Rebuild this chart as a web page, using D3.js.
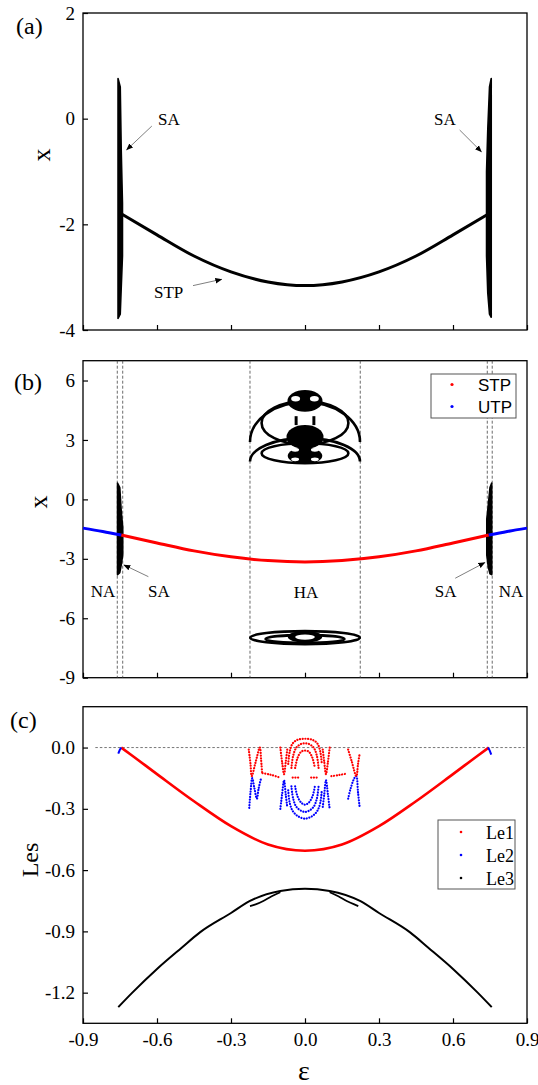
<!DOCTYPE html>
<html>
<head>
<meta charset="utf-8">
<script src="https://cdn.jsdelivr.net/npm/d3@7.9.0/dist/d3.min.js"></script>
<style>
  body { margin: 0; background: #fff; }
  text { font-family: "Liberation Serif", "Times New Roman", serif; fill: #000; }
</style>
</head>
<body>
<svg id="chart" width="538" height="1085"></svg>
<script>
// ---- ticks ----
const epsTicks = [-0.9, -0.6, -0.3, 0, 0.3, 0.6, 0.9];
const aTicks = [-4, -2, 0, 2];
const bTicks = [-9, -6, -3, 0, 3, 6];
const cTicks = [-1.2, -0.9, -0.6, -0.3, 0];

// ---- stable / unstable equilibrium branch (x vs eps) ----
const stpEps = [-0.745, -0.6, -0.45, -0.3, -0.15, 0, 0.15, 0.3, 0.45, 0.6, 0.745];
const stpX = [-1.8, -2.2, -2.6, -2.9, -3.09, -3.16, -3.09, -2.9, -2.6, -2.2, -1.8];
const utpLeftEps = [-0.9, -0.82, -0.745];
const utpLeftX = [-1.45, -1.62, -1.8];
const utpRightEps = [0.745, 0.82, 0.9];
const utpRightX = [-1.8, -1.62, -1.45];

// ---- self-excited attractor bands (eps, lower x, upper x) ----
const saALeft = [
  { e: -0.758, lo: -3.78, hi: 0.76 }, { e: -0.749, lo: -3.7, hi: 0.6 },
  { e: -0.745, lo: -3.2, hi: -0.6 }, { e: -0.740, lo: -2.6, hi: -1.6 }];
const saARight = [
  { e: 0.736, lo: -2.6, hi: -1.0 }, { e: 0.741, lo: -3.3, hi: -0.2 },
  { e: 0.748, lo: -3.7, hi: 0.6 }, { e: 0.755, lo: -3.76, hi: 0.76 }];
const saBLeft = [
  { e: -0.760, lo: -3.8, hi: 0.82 }, { e: -0.751, lo: -3.7, hi: 0.6 },
  { e: -0.745, lo: -3.3, hi: -0.6 }, { e: -0.739, lo: -2.8, hi: -1.4 }];
const saBRight = [
  { e: 0.737, lo: -2.8, hi: -1.0 }, { e: 0.743, lo: -3.4, hi: -0.3 },
  { e: 0.750, lo: -3.75, hi: 0.6 }, { e: 0.757, lo: -3.8, hi: 0.82 }];

// ---- hidden attractor pieces in (b): closed loops, upper arcs, solid blobs, holes ----
const haLoops = [
  { e: 0, x: 3.86, re: 0.176, rx: 1.09 },
  { e: 0, x: 2.33, re: 0.176, rx: 0.5 },
  { e: 0, x: -6.98, re: 0.222, rx: 0.33 },
  { e: 0, x: -7.05, re: 0.16, rx: 0.2 }];
const haArcs = [
  { e: 0, x: 2.9, re: 0.223, rx: 2.0 },
  { e: 0, x: 1.91, re: 0.223, rx: 1.18 }];
const haBlobs = [
  { e: 0, x: 4.97, re: 0.071, rx: 0.55 },
  { e: 0, x: 3.15, re: 0.075, rx: 0.6 },
  { e: 0, x: 2.2, re: 0.07, rx: 0.42 },
  { e: 0, x: -6.93, re: 0.07, rx: 0.3 }];
const haHoles = [
  { e: -0.038, x: 5.08, re: 0.018, rx: 0.14 }, { e: 0.038, x: 5.08, re: 0.018, rx: 0.14 },
  { e: -0.04, x: 2.5, re: 0.016, rx: 0.1 }, { e: 0.04, x: 2.5, re: 0.016, rx: 0.1 },
  { e: -0.04, x: 2.02, re: 0.016, rx: 0.1 }, { e: 0.04, x: 2.02, re: 0.016, rx: 0.1 },
  { e: 0, x: -6.95, re: 0.04, rx: 0.13 }];
const haMarks = [
  { e0: -0.042, e1: -0.03, x0: 3.75, x1: 4.2 },
  { e0: 0.03, e1: 0.042, x0: 3.75, x1: 4.2 }];

// ---- Lyapunov exponents (c) ----
const le1Eps = [-0.745, -0.7, -0.6, -0.45, -0.3, -0.15, 0, 0.15, 0.3, 0.45, 0.6, 0.7, 0.745];
const le1 = [0.0, -0.04, -0.13, -0.263, -0.385, -0.475, -0.505, -0.475, -0.385, -0.263, -0.13, -0.04, 0.0];
const le3Eps = [-0.757, -0.7, -0.6, -0.5, -0.426, -0.3, -0.223, -0.1, 0, 0.1, 0.223, 0.3, 0.426, 0.5, 0.6, 0.7, 0.757];
const le3 = [-1.271, -1.2, -1.084, -0.98, -0.905, -0.81, -0.751, -0.702, -0.691, -0.702, -0.751, -0.81, -0.905, -0.98, -1.084, -1.2, -1.271];
const le3Branches = [
  [[-0.223, -0.776], [-0.2, -0.768], [-0.169, -0.751], [-0.135, -0.728], [-0.1, -0.708]],
  [[0.1, -0.708], [0.135, -0.728], [0.169, -0.751], [0.2, -0.768], [0.216, -0.776]]];
const le2Edges = [
  [[-0.757, -0.03], [-0.751, -0.012], [-0.745, 0.0]],
  [[0.742, 0.0], [0.749, -0.015], [0.755, -0.035]]];

// Le1 / Le2 point runs inside the HA window
const le1HA = [
  [[-0.228, -0.01], [-0.221, -0.08], [-0.216, -0.14], [-0.2, -0.07], [-0.183, 0.0], [-0.178, -0.06], [-0.174, -0.12]],
  [[-0.172, -0.125], [-0.14, -0.133], [-0.104, -0.146]],
  [[-0.1, 0.0], [-0.093, -0.07], [-0.085, -0.13], [-0.078, -0.07], [-0.072, -0.01]],
  [[-0.068, -0.08], [-0.062, -0.02], [-0.05, 0.02], [-0.03, 0.038], [0, 0.043], [0.03, 0.038], [0.05, 0.02], [0.062, -0.02], [0.068, -0.08]],
  [[-0.055, -0.1], [-0.048, -0.04], [-0.035, 0.0], [-0.015, 0.018], [0, 0.02], [0.015, 0.018], [0.035, 0.0], [0.048, -0.04], [0.055, -0.1]],
  [[-0.04, -0.1], [-0.03, -0.05], [-0.015, -0.02], [0, -0.015], [0.015, -0.02], [0.03, -0.05], [0.04, -0.1]],
  [[-0.05, -0.147], [-0.025, -0.147]],
  [[0.025, -0.147], [0.05, -0.147]],
  [[0.072, -0.01], [0.078, -0.07], [0.085, -0.13], [0.093, -0.07], [0.1, 0.0]],
  [[0.107, -0.14], [0.14, -0.134], [0.167, -0.128]],
  [[0.175, -0.01], [0.19, -0.07], [0.208, -0.14], [0.215, -0.08], [0.222, -0.027]]];
const le2HA = [
  [[-0.226, -0.295], [-0.221, -0.22], [-0.214, -0.15], [-0.205, -0.2], [-0.195, -0.25], [-0.188, -0.2], [-0.178, -0.15]],
  [[-0.1, -0.3], [-0.093, -0.23], [-0.085, -0.16], [-0.078, -0.23], [-0.072, -0.29]],
  [[-0.068, -0.21], [-0.062, -0.27], [-0.05, -0.31], [-0.03, -0.335], [0, -0.348], [0.03, -0.335], [0.05, -0.31], [0.062, -0.27], [0.068, -0.21]],
  [[-0.055, -0.19], [-0.048, -0.25], [-0.035, -0.29], [-0.015, -0.31], [0, -0.315], [0.015, -0.31], [0.035, -0.29], [0.048, -0.25], [0.055, -0.19]],
  [[-0.04, -0.19], [-0.03, -0.24], [-0.015, -0.27], [0, -0.28], [0.015, -0.27], [0.03, -0.24], [0.04, -0.19]],
  [[0.072, -0.29], [0.078, -0.23], [0.085, -0.16], [0.093, -0.23], [0.1, -0.3]],
  [[0.175, -0.25], [0.185, -0.2], [0.2, -0.15], [0.208, -0.14], [0.215, -0.22], [0.222, -0.296]]];

// ---- boundaries and notes ----
const bDashes = [-0.761, -0.739, -0.223, 0.224, 0.739, 0.759];
const notesA = [
  { t: 'SA', e: -0.596, v: -0.12, from: [-0.621, -0.14], to: [-0.723, -0.59] },
  { t: 'STP', e: -0.612, v: -3.39, from: [-0.454, -3.16], to: [-0.338, -3.04] },
  { t: 'SA', e: 0.523, v: -0.12, from: [0.627, -0.215], to: [0.715, -0.625] }];
const notesB = [
  { t: 'NA', e: -0.869, v: -4.93 },
  { t: 'SA', e: -0.636, v: -4.93, from: [-0.635, -3.9], to: [-0.734, -3.31] },
  { t: 'HA', e: -0.046, v: -4.98 },
  { t: 'SA', e: 0.526, v: -4.93, from: [0.609, -3.98], to: [0.729, -3.19] },
  { t: 'NA', e: 0.785, v: -4.93 }];
const legendB = [{ label: 'STP', color: '#ff0000' }, { label: 'UTP', color: '#0000ff' }];
const legendC = [{ label: 'Le1', color: '#ff0000' }, { label: 'Le2', color: '#0000ff' }, { label: 'Le3', color: '#000' }];

const svg = d3.select('#chart');
const x = d3.scaleLinear().domain([-0.9, 0.9]).range([83, 527]);
const yA = d3.scaleLinear().domain([-4, 2]).range([330, 13]);
const yB = d3.scaleLinear().domain([-9, 7]).range([677.7, 360.7]);
const yC = d3.scaleLinear().domain([-1.35, 0.2]).range([1023.3, 706.7]);

const defs = svg.append('defs');
defs.append('marker').attr('id', 'arrow').attr('viewBox', '0 0 10 10')
  .attr('refX', 9).attr('refY', 5).attr('markerWidth', 7).attr('markerHeight', 7)
  .attr('markerUnits', 'userSpaceOnUse').attr('orient', 'auto')
  .append('path').attr('d', 'M0,1 L10,5 L0,9 Z').attr('fill', '#000');

function axes(y, ticks, fmt, showX) {
  const [bot, top] = y.range();
  const g = svg.append('g');
  const gx = g.append('g').attr('transform', `translate(0,${bot})`)
    .call(d3.axisBottom(x).tickValues(epsTicks).tickSize(-5).tickPadding(9)
      .tickFormat(showX ? (d) => d.toFixed(1) : ''));
  const gy = g.append('g').attr('transform', `translate(${x.range()[0]},0)`)
    .call(d3.axisLeft(y).tickValues(ticks).tickSize(-5).tickPadding(8).tickFormat(fmt));
  [gx, gy].forEach((a) => {
    a.select('.domain').remove();
    a.selectAll('line').attr('stroke', '#000').attr('stroke-width', 1.2);
    a.selectAll('text').style('font-family', '"Liberation Serif", serif').style('font-size', '19px');
  });
  g.append('rect').attr('x', x.range()[0]).attr('y', top)
    .attr('width', x.range()[1] - x.range()[0]).attr('height', bot - top)
    .attr('fill', 'none').attr('stroke', '#000').attr('stroke-width', 1.3);
}

function band(y, data) {
  svg.append('path').datum(data)
    .attr('d', d3.area().x((d) => x(d.e)).y0((d) => y(d.lo)).y1((d) => y(d.hi)))
    .attr('fill', '#000').attr('stroke', '#000').attr('stroke-width', 1.6)
    .attr('stroke-linejoin', 'round');
}

function notes(y, list) {
  list.forEach((n) => {
    svg.append('text').attr('x', x(n.e)).attr('y', y(n.v))
      .style('font-size', '17px').text(n.t);
    if (n.from) {
      svg.append('line').attr('x1', x(n.from[0])).attr('y1', y(n.from[1]))
        .attr('x2', x(n.to[0])).attr('y2', y(n.to[1]))
        .attr('stroke', '#808080').attr('stroke-width', 1).attr('marker-end', 'url(#arrow)');
    }
  });
}

const lineXY = (y) => d3.line().x((d) => x(d[0])).y((d) => y(d[1]));
const zip = (a, b) => a.map((v, i) => [v, b[i]]);

// ================= (a) =================
axes(yA, aTicks, (d) => String(d), false);
band(yA, saALeft);
band(yA, saARight);
svg.append('path').datum(zip(stpEps, stpX))
  .attr('d', lineXY(yA).curve(d3.curveMonotoneX))
  .attr('fill', 'none').attr('stroke', '#000').attr('stroke-width', 3);
notes(yA, notesA);

// ================= (b) =================
axes(yB, bTicks, (d) => String(d), false);
bDashes.forEach((e) => {
  svg.append('line').attr('x1', x(e)).attr('x2', x(e))
    .attr('y1', yB.range()[1]).attr('y2', yB.range()[0])
    .attr('stroke', '#444').attr('stroke-width', 0.8).attr('stroke-dasharray', '3,2');
});
band(yB, saBLeft);
band(yB, saBRight);
svg.append('path').datum(zip(stpEps, stpX))
  .attr('d', lineXY(yB).curve(d3.curveMonotoneX))
  .attr('fill', 'none').attr('stroke', '#ff0000').attr('stroke-width', 3);
[zip(utpLeftEps, utpLeftX), zip(utpRightEps, utpRightX)].forEach((seg) => {
  svg.append('path').datum(seg).attr('d', lineXY(yB).curve(d3.curveMonotoneX))
    .attr('fill', 'none').attr('stroke', '#0000ff').attr('stroke-width', 3);
});
const ell = (d) => ({ cx: x(d.e), cy: yB(d.x), rx: x(d.e + d.re) - x(d.e), ry: yB(d.x) - yB(d.x + d.rx) });
haArcs.forEach((d) => {
  const p = ell(d);
  svg.append('path')
    .attr('d', `M${p.cx - p.rx},${p.cy} A${p.rx},${p.ry} 0 0 1 ${p.cx + p.rx},${p.cy}`)
    .attr('fill', 'none').attr('stroke', '#000').attr('stroke-width', 2.6);
});
haLoops.forEach((d) => {
  const p = ell(d);
  svg.append('ellipse').attr('cx', p.cx).attr('cy', p.cy).attr('rx', p.rx).attr('ry', p.ry)
    .attr('fill', 'none').attr('stroke', '#000').attr('stroke-width', 2.6);
});
haBlobs.forEach((d) => {
  const p = ell(d);
  svg.append('ellipse').attr('cx', p.cx).attr('cy', p.cy).attr('rx', p.rx).attr('ry', p.ry)
    .attr('fill', '#000');
});
haHoles.forEach((d) => {
  const p = ell(d);
  svg.append('ellipse').attr('cx', p.cx).attr('cy', p.cy).attr('rx', p.rx).attr('ry', p.ry)
    .attr('fill', '#fff');
});
haMarks.forEach((d) => {
  svg.append('rect').attr('x', x(d.e0)).attr('y', yB(d.x1))
    .attr('width', x(d.e1) - x(d.e0)).attr('height', yB(d.x0) - yB(d.x1)).attr('fill', '#000');
});
notes(yB, notesB);

// legend (b)
svg.append('rect').attr('x', 431).attr('y', 374).attr('width', 85).attr('height', 44)
  .attr('fill', '#fff').attr('stroke', '#555').attr('stroke-width', 1);
legendB.forEach((d, i) => {
  svg.append('circle').attr('cx', 452).attr('cy', 384.5 + i * 22).attr('r', 1.6).attr('fill', d.color);
  svg.append('text').attr('x', 478).attr('y', 390.5 + i * 22)
    .style('font-family', '"Liberation Sans", Arial, sans-serif').style('font-size', '17px').text(d.label);
});

// ================= (c) =================
axes(yC, cTicks, (d) => d.toFixed(1), true);
svg.append('line').attr('x1', x(-0.85)).attr('x2', x(0.89)).attr('y1', yC(0)).attr('y2', yC(0))
  .attr('stroke', '#555').attr('stroke-width', 0.8).attr('stroke-dasharray', '2.5,2');
svg.append('path').datum(zip(le1Eps, le1)).attr('d', lineXY(yC).curve(d3.curveMonotoneX))
  .attr('fill', 'none').attr('stroke', '#ff0000').attr('stroke-width', 2.6);
le2Edges.forEach((seg) => {
  svg.append('path').datum(seg).attr('d', lineXY(yC))
    .attr('fill', 'none').attr('stroke', '#0000ff').attr('stroke-width', 2);
});
le2HA.forEach((seg) => {
  svg.append('path').datum(seg).attr('d', lineXY(yC).curve(d3.curveCatmullRom))
    .attr('fill', 'none').attr('stroke', '#0000ff').attr('stroke-width', 2.2)
    .attr('stroke-linecap', 'round').attr('stroke-dasharray', '0.1,2.6');
});
le1HA.forEach((seg) => {
  svg.append('path').datum(seg).attr('d', lineXY(yC).curve(d3.curveCatmullRom))
    .attr('fill', 'none').attr('stroke', '#ff0000').attr('stroke-width', 2.2)
    .attr('stroke-linecap', 'round').attr('stroke-dasharray', '0.1,2.6');
});
svg.append('path').datum(zip(le3Eps, le3)).attr('d', lineXY(yC).curve(d3.curveMonotoneX))
  .attr('fill', 'none').attr('stroke', '#000').attr('stroke-width', 2);
le3Branches.forEach((seg) => {
  svg.append('path').datum(seg).attr('d', lineXY(yC).curve(d3.curveMonotoneX))
    .attr('fill', 'none').attr('stroke', '#000').attr('stroke-width', 1.8);
});

// legend (c)
svg.append('rect').attr('x', 438).attr('y', 820).attr('width', 77).attr('height', 69)
  .attr('fill', '#fff').attr('stroke', '#555').attr('stroke-width', 1);
legendC.forEach((d, i) => {
  svg.append('circle').attr('cx', 461).attr('cy', 832 + i * 23).attr('r', 1.3).attr('fill', d.color);
  svg.append('text').attr('x', 486).attr('y', 838.5 + i * 23).style('font-size', '18px').text(d.label);
});

// ================= labels =================
svg.append('text').attr('x', 16).attr('y', 34).style('font-size', '24px').text('(a)');
svg.append('text').attr('x', 14).attr('y', 390).style('font-size', '24px').text('(b)');
svg.append('text').attr('x', 10).attr('y', 728).style('font-size', '24px').text('(c)');
svg.append('text').attr('transform', 'translate(50,155) rotate(-90)').attr('text-anchor', 'middle')
  .style('font-size', '26px').text('x');
svg.append('text').attr('transform', 'translate(47,502) rotate(-90)').attr('text-anchor', 'middle')
  .style('font-size', '26px').text('x');
svg.append('text').attr('transform', 'translate(38,860) rotate(-90)').attr('text-anchor', 'middle')
  .style('font-size', '24px').text('Les');
svg.append('text').attr('x', 304).attr('y', 1080).attr('text-anchor', 'middle')
  .style('font-size', '28px').text('ε');
</script>
</body>
</html>
